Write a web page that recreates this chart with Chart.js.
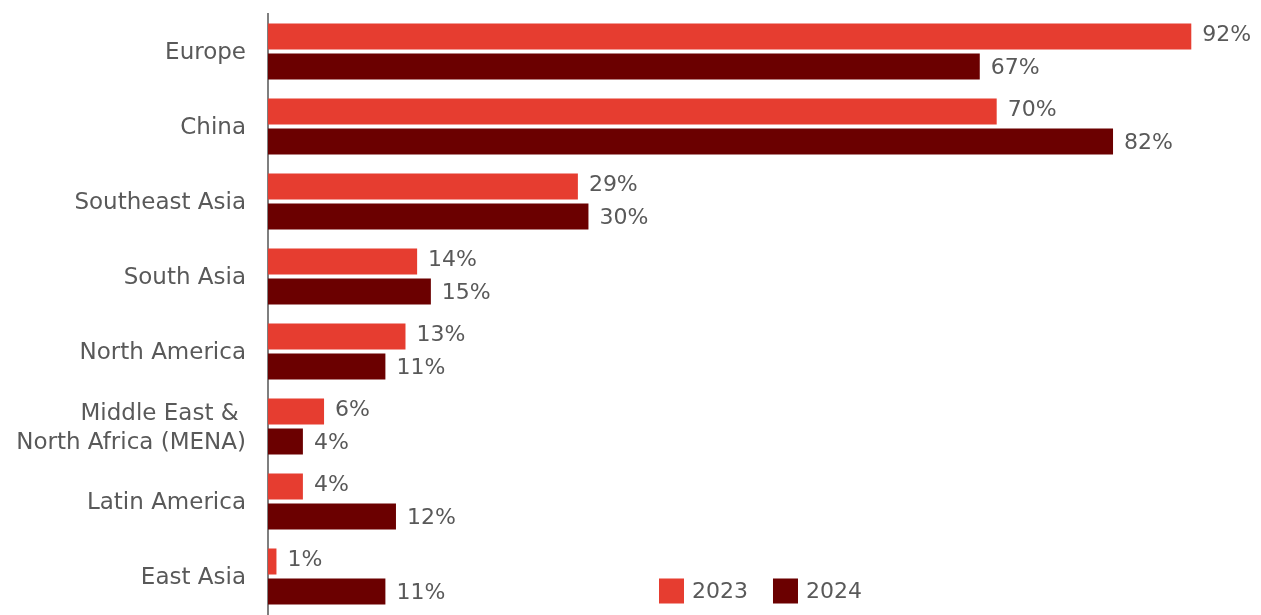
<!DOCTYPE html>
<html>
<head>
<meta charset="utf-8">
<script src="https://cdn.jsdelivr.net/npm/chart.js@4"></script>
<style>
   body { margin: 0; background: #fff; }
   #wrap { width: 1261px; height: 615px; position: relative; }
</style>
</head>
<body>
<div id="wrap"><canvas id="region-graph"></canvas></div>
<script>
const regions = ['Europe', 'China', 'Southeast Asia', 'South Asia', 'North America', ['Middle East & ', 'North Africa (MENA)'], 'Latin America', 'East Asia']

// bar lengths as drawn in the picture
const share2023 = [87.3, 68.9, 29.3, 14.1, 13.0, 5.3, 3.3, 0.8]
const share2024 = [67.3, 79.9, 30.3, 15.4, 11.1, 3.3, 12.1, 11.1]

// labels printed beside the bars
const label2023 = ['92%', '70%', '29%', '14%', '13%', '6%', '4%', '1%']
const label2024 = ['67%', '82%', '30%', '15%', '11%', '4%', '12%', '11%']

const seriesNames = ['2023', '2024']
const textColor = '#595959'
const fontFamily = '"DejaVu Sans", sans-serif'

const barLabels = {
   id: 'barLabels',
   afterDatasetsDraw: (chart) => {
      const c = chart.ctx
      c.save()
      c.font = `22px ${fontFamily}`
      c.fillStyle = textColor
      c.textAlign = 'left'
      c.textBaseline = 'middle'
      chart.data.datasets.forEach((ds, i) => {
         const shift = i === 0 ? -1 : 2
         chart.getDatasetMeta(i).data.forEach((bar, j) => {
            c.fillText(ds.valueLabels[j], bar.x + 11, bar.y + shift)
         })
      })
      c.restore()
   }
}

const bottomLegend = {
   id: 'bottomLegend',
   afterDraw: (chart) => {
      const c = chart.ctx
      c.save()
      c.font = `22px ${fontFamily}`
      c.textBaseline = 'middle'
      let x = 659
      const y = 591
      chart.data.datasets.forEach(ds => {
         c.fillStyle = ds.backgroundColor
         c.fillRect(x, y - 12.5, 25, 25)
         c.fillStyle = textColor
         c.fillText(ds.label, x + 33, y + 1)
         x += 33 + c.measureText(ds.label).width + 25
      })
      c.restore()
   }
}

const ctx = document.getElementById('region-graph')

new Chart(ctx, {
   type: 'bar',
   data: {
      labels: regions,
      datasets: [{
         label: seriesNames[0],
         data: share2023,
         valueLabels: label2023,
         backgroundColor: '#E63D30',
         categoryPercentage: 0.8,
         barPercentage: 0.867
      }, {
         label: seriesNames[1],
         data: share2024,
         valueLabels: label2024,
         backgroundColor: '#6B0000',
         categoryPercentage: 0.8,
         barPercentage: 0.867
      }]
   },
   options: {
      indexAxis: 'y',
      responsive: true,
      maintainAspectRatio: false,
      animation: false,
      layout: {
         padding: { top: 14, bottom: 1, right: 20, left: 0 }
      },
      plugins: {
         legend: { display: false },
         tooltip: { enabled: false }
      },
      scales: {
         x: {
            display: false,
            min: 0,
            max: 92
         },
         y: {
            afterFit: (scale) => {
               scale.width = 268
               scale.paddingTop = 0
               scale.paddingBottom = 0
            },
            grid: { display: false, drawTicks: false },
            border: { display: true, color: '#7F7F7F', width: 2 },
            ticks: {
               padding: 22,
               labelOffset: 2,
               color: textColor,
               font: { family: fontFamily, size: 23, lineHeight: 1.27 }
            }
         }
      }
   },
   plugins: [barLabels, bottomLegend]
})
</script>
</body>
</html>
